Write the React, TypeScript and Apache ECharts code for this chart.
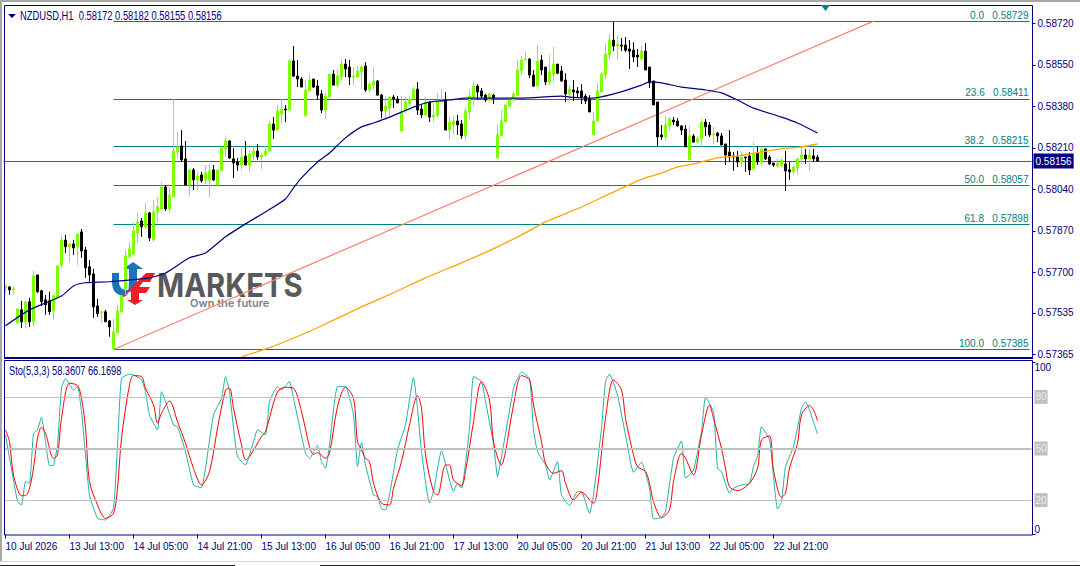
import { useEffect, useRef } from 'react';
import * as echarts from 'echarts';

// prices are in points (1e-5), bars are H1
const timeLabels = ['10 Jul 2026', '13 Jul 13:00', '14 Jul 05:00', '14 Jul 21:00', '15 Jul 13:00', '16 Jul 05:00', '16 Jul 21:00', '17 Jul 13:00', '20 Jul 05:00', '20 Jul 21:00', '21 Jul 13:00', '22 Jul 05:00', '22 Jul 21:00'];
const barsPerLabel = 16;
const slotCount = 257;

const priceTicks = [58720, 58550, 58380, 58210, 58040, 57870, 57700, 57535, 57365];
const fibNames = ['0.0', '23.6', '38.2', '50.0', '61.8', '100.0'];
const fibPrices = [58729, 58411, 58215, 58057, 57898, 57385];
const lastPrice = 58156;
const stoLevels = [80, 50, 20];

// open, close, low, high
const candles = [
  [57637,57645,57617,57649],[57641,57629,57609,57645],[57629,57633,57609,57645],[57494,57551,57490,57551],
  [57547,57498,57473,57584],[57498,57580,57473,57584],[57580,57498,57477,57596],[57498,57686,57477,57707],
  [57690,57621,57617,57690],[57625,57580,57563,57629],[57588,57568,57527,57608],[57584,57539,57527,57621],
  [57543,57604,57506,57608],[57600,57727,57600,57727],[57731,57833,57719,57854],[57833,57805,57780,57854],
  [57805,57817,57739,57817],[57817,57801,57772,57833],[57805,57858,57731,57858],[57866,57788,57760,57878],
  [57792,57719,57678,57805],[57723,57690,57662,57751],[57694,57559,57514,57715],[57563,57531,57518,57592],
  [57535,57539,57494,57543],[57539,57498,57498,57547],[57502,57477,57437,57506],[57387,57457,57385,57510],
  [57453,57543,57453,57568],[57539,57604,57535,57608],[57633,57768,57608,57792],[57764,57797,57760,57823],
  [57776,57870,57772,57903],[57862,57907,57821,57948],[57911,57887,57846,57923],[57887,57944,57878,57985],
  [57944,57842,57829,57948],[57833,57948,57825,57997],[57948,57968,57907,58009],[57960,58050,57956,58071],
  [58050,57960,57952,58058],[57960,58017,57944,58050],[58009,58197,58009,58410],[58193,58214,58169,58275],
  [58218,58161,58152,58283],[58165,58058,58058,58238],[58058,58120,58013,58124],[58120,58079,58038,58128],
  [58079,58095,58038,58112],[58099,58075,58067,58112],[58079,58107,58062,58140],[58079,58116,58009,58144],
  [58120,58079,58075,58140],[58058,58120,58058,58120],[58116,58214,58116,58222],[58206,58238,58173,58255],
  [58238,58169,58165,58242],[58165,58148,58087,58210],[58152,58140,58116,58169],[58140,58173,58120,58210],
  [58177,58140,58140,58238],[58140,58185,58112,58201],[58181,58197,58161,58222],[58197,58173,58161,58226],
  [58173,58181,58124,58189],[58181,58197,58173,58218],[58197,58308,58197,58320],[58308,58283,58247,58336],
  [58283,58361,58283,58386],[58349,58369,58312,58410],[58369,58365,58316,58386],[58365,58566,58365,58574],
  [58566,58504,58500,58627],[58504,58492,58459,58570],[58492,58459,58459,58500],[58341,58447,58341,58488],
  [58443,58488,58443,58512],[58492,58459,58455,58492],[58463,58426,58406,58488],[58431,58365,58353,58447],
  [58365,58422,58328,58435],[58418,58512,58414,58512],[58512,58467,58467,58529],[58467,58504,58459,58533],
  [58500,58553,58488,58574],[58553,58533,58500,58574],[58541,58500,58467,58570],[58500,58504,58467,58541],
  [58500,58525,58496,58545],[58521,58541,58451,58549],[58545,58447,58439,58561],[58447,58471,58439,58480],
  [58467,58484,58447,58541],[58484,58426,58426,58488],[58426,58361,58332,58431],[58361,58381,58324,58422],
  [58373,58418,58336,58422],[58418,58410,58373,58426],[58410,58394,58394,58422],[58279,58361,58279,58422],
  [58361,58398,58353,58418],[58390,58410,58381,58422],[58410,58451,58406,58459],[58451,58365,58345,58480],
  [58369,58345,58332,58386],[58345,58398,58341,58418],[58398,58336,58316,58398],[58336,58345,58316,58394],
  [58341,58398,58336,58435],[58398,58406,58398,58451],[58406,58283,58283,58439],[58283,58316,58242,58336],
  [58304,58320,58263,58341],[58320,58304,58263,58345],[58308,58259,58247,58324],[58259,58361,58242,58373],
  [58357,58422,58328,58447],[58418,58463,58381,58480],[58463,58439,58406,58471],[58443,58422,58414,58455],
  [58426,58406,58398,58431],[58406,58431,58398,58435],[58426,58414,58390,58431],[58169,58263,58169,58304],
  [58259,58320,58259,58365],[58316,58386,58316,58386],[58381,58406,58381,58406],[58406,58431,58402,58439],
  [58426,58529,58422,58570],[58525,58570,58508,58586],[58570,58574,58570,58602],[58574,58508,58496,58578],
  [58508,58463,58459,58529],[58463,58566,58463,58631],[58570,58529,58508,58590],[58541,58480,58467,58541],
  [58480,58521,58467,58590],[58512,58553,58480,58623],[58553,58516,58512,58553],[58525,58484,58480,58545],
  [58488,58431,58398,58516],[58431,58451,58402,58467],[58447,58439,58402,58488],[58443,58435,58418,58459],
  [58443,58418,58390,58471],[58422,58402,58390,58431],[58410,58357,58357,58426],[58263,58320,58263,58357],
  [58320,58443,58320,58476],[58439,58512,58435,58521],[58508,58594,58492,58635],[58590,58651,58570,58676],
  [58651,58627,58606,58725],[58627,58635,58570,58668],[58631,58627,58606,58660],[58631,58610,58602,58664],
  [58615,58606,58533,58651],[58610,58582,58561,58643],[58590,58582,58541,58615],[58574,58606,58570,58627],
  [58606,58529,58529,58639],[58541,58476,58455,58541],[58484,58386,58386,58484],[58398,58255,58218,58398],
  [58263,58255,58242,58304],[58255,58304,58238,58341],[58300,58328,58279,58336],[58324,58316,58304,58336],
  [58320,58300,58296,58332],[58300,58283,58263,58304],[58287,58214,58214,58304],[58161,58259,58161,58300],
  [58259,58234,58230,58267],[58234,58247,58230,58259],[58247,58316,58214,58328],[58316,58296,58259,58328],
  [58304,58263,58255,58316],[58263,58267,58226,58296],[58271,58259,58234,58275],[58259,58222,58222,58271],
  [58226,58181,58140,58226],[58193,58173,58152,58283],[58177,58173,58116,58193],[58173,58152,58132,58197],
  [58152,58173,58132,58193],[58173,58169,58112,58173],[58177,58120,58099,58193],[58124,58185,58120,58234],
  [58189,58152,58140,58218],[58152,58206,58140,58206],[58206,58165,58161,58206],[58173,58144,58140,58181],
  [58148,58140,58132,58148],[58136,58148,58128,58165],[58140,58161,58132,58165],[58144,58116,58034,58197],
  [58120,58112,58079,58152],[58112,58132,58099,58140],[58128,58165,58099,58169],[58165,58181,58140,58214],
  [58181,58165,58144,58206],[58165,58181,58116,58206],[58177,58165,58152,58206],[58172,58156,58155,58182],
];

// [bar index, value]
const blueMa = [
  [0,57482],[6,57547],[14,57604],[17,57645],[20,57658],[26,57662],[36,57678],[40,57698],[46,57760],[50,57780],
  [55,57846],[60,57899],[65,57948],[70,58001],[72,58046],[74,58087],[78,58152],[81,58189],[85,58251],[89,58296],
  [92,58312],[96,58336],[102,58377],[106,58398],[111,58406],[115,58414],[124,58414],[129,58414],[139,58422],[141,58418],
  [147,58414],[153,58435],[159,58467],[161,58480],[164,58476],[169,58459],[175,58447],[179,58435],[183,58406],[187,58373],
  [194,58336],[198,58312],[203,58271],
];
const orangeMa = [
  [59,57355],[66,57392],[74,57445],[79,57482],[89,57559],[97,57617],[105,57678],[114,57739],[123,57805],[130,57862],
  [135,57907],[144,57968],[151,58022],[157,58067],[160,58087],[164,58107],[168,58132],[173,58148],[178,58169],[183,58177],
  [189,58193],[194,58206],[199,58214],[203,58226],
];
const fibTrend = [[27,57385],[217,58729]];

const stoMain = [
  [0,58],[3,19.1],[4,17.2],[5,30.8],[6,29.8],[7,58.9],[8,60.8],[9,68.2],[10,54],[11,40],[12,40.4],[13,52],[14,85],[15,90.8],
  [17,84],[18,86],[19,71.5],[20,46],[21,23],[23,9.4],[25,8.5],[27,15.3],[28,52],[29,90.8],[31,93.2],[32,92.8],[34,89.9],
  [35,83],[36,69.5],[38,60.8],[39,83],[40,77.3],[42,63.7],[43,62.7],[45,48.2],[47,28.8],[49,27.3],[50,38.5],[52,69.5],
  [54,79.2],[55,91.8],[56,83],[57,61.8],[58,45.3],[60,40.4],[62,54],[63,60.8],[65,57.9],[66,77.3],[68,86],[69,84],[71,88.9],
  [72,79.2],[75,47.2],[76,44.3],[78,51.7],[79,42.4],[80,38.5],[81,52],[83,86],[85,86],[87,69.5],[88,39.5],[89,53.6],
  [90,40.4],[92,23],[93,22],[94,14.9],[95,14.3],[96,23],[98,49.2],[100,63.7],[102,91.2],[103,73.4],[104,48.2],[106,18.2],
  [107,25],[109,48.6],[112,25.1],[113,29.8],[114,26.9],[116,61.8],[117,91.8],[119,88.9],[120,77.3],[122,53],[123,33.7],
  [124,45],[127,85],[128,90.8],[129,94.4],[131,90.8],[132,60.8],[133,48.2],[135,40.4],[136,31.7],[138,42.4],[139,23],
  [141,16.8],[143,25],[144,25],[146,12.3],[147,23],[149,61.8],[150,88.9],[151,93.2],[153,81.1],[155,57.9],[157,36.2],
  [159,42],[161,26.9],[162,9],[164,9.8],[165,13.3],[167,44.3],[169,54.4],[170,32.7],[172,37.5],[174,59.8],[175,79.8],
  [177,71.5],[178,38.5],[179,36.5],[181,24],[182,26.9],[184,28.8],[186,29.8],[187,39.5],[188,45.3],[189,62.7],[191,55],
  [192,33.6],[193,14.8],[194,19],[195,39.5],[197,51],[199,73.4],[200,77.2],[201,72.4],[203,58.4],
];
const stoSignal = [
  [0,60.8],[1,54],[2,34.6],[4,22.6],[5,22.6],[6,26.9],[7,38.5],[8,56],[9,62.3],[10,58.9],[12,44.3],[13,46.2],[14,67.6],
  [16,87.9],[18,86.6],[19,79.2],[20,61.8],[21,30.8],[23,17.2],[25,9.4],[27,12.3],[28,26.9],[29,56],[31,87],[32,92.4],
  [34,91.8],[35,85],[37,75.3],[38,64.7],[39,70.5],[41,77.6],[43,65.6],[45,53],[47,38.5],[49,28.8],[51,36.6],[53,61.8],
  [55,84],[56,85],[57,73.4],[59,52],[60,43.4],[61,45.3],[64,56.9],[65,59.8],[68,83],[70,85.6],[72,85],[74,71.5],[76,51.1],
  [77,46.6],[78,47.6],[80,44.3],[81,47.2],[83,74.4],[85,85.6],[87,79.2],[88,54],[89,49.2],[90,44.3],[91,42.4],[92,29.8],
  [94,18.2],[96,17.2],[97,26.9],[99,42.4],[101,63.7],[103,80.8],[104,73.4],[105,46.2],[107,24.9],[108,23],[110,40.4],
  [111,40.4],[112,31.7],[114,28.4],[115,36.6],[117,65.6],[119,88.9],[121,78.2],[122,54],[124,40.4],[125,48.2],[127,75.3],
  [129,92.4],[131,89.9],[132,75.3],[134,54],[135,41.4],[137,35.6],[139,37.1],[140,29.8],[142,20.1],[144,24.6],[147,18.2],
  [148,26.9],[150,67.6],[152,89.9],[154,84],[155,67.6],[157,46.3],[158,39.5],[160,36.6],[161,29.8],[162,19.1],[164,9.8],
  [166,14.3],[167,30.8],[169,47.2],[170,44.3],[172,34.6],[174,57.8],[176,75.3],[177,67.6],[179,50],[180,38.5],[181,27.8],
  [183,25.5],[186,29.8],[188,38.5],[189,55],[191,57.3],[192,37.5],[194,21.6],[195,24],[196,38.5],[198,53],[199,69.5],
  [201,74.9],[202,72.4],[203,66.2],
];

const uPath = 'M112 273 L119 273 L119 282 Q119 289 126 290 L129 290 L126 296 Q112 296 112 282 Z M129 269 L123 269 L133 262 L143 269 L137 269 L137 282 Q137 288 133 292 L128 291 Q129 287 129 282 Z';
const fPath = 'M122 297 L146 273 L155 273 L150 282 L143 282 L139 287 L150 287 L146 293 L139 293 L139 300 L143 300 L135 305 L127 300 L131 300 L131 290 L124 297 Z';
echarts.graphic.registerShape('ufU', echarts.graphic.extendPath(uPath, {}));
echarts.graphic.registerShape('ufF', echarts.graphic.extendPath(fPath, {}));

const NAVY = '#000080';
const TEAL = '#008080';
const FONT = '"Liberation Sans", sans-serif';

const categories = Array.from({ length: slotCount }, (_, i) =>
  i % barsPerLabel === 0 && timeLabels[i / barsPerLabel] ? timeLabels[i / barsPerLabel] : String(i)
);
const isLabelled = (i: number) => i % barsPerLabel === 0 && i / barsPerLabel < timeLabels.length;

export default function App() {
  const chartRef = useRef<HTMLDivElement>(null);

  useEffect(() => {
    if (!chartRef.current) return;
    const chart = echarts.init(chartRef.current, undefined, { renderer: 'svg' });

    const fibLines = fibPrices.map((p, i) => [
      {
        coord: [27, p],
        label: {
          show: true,
          position: 'insideEndTop',
          distance: 1,
          color: TEAL,
          fontFamily: FONT,
          fontSize: 10,
          formatter: `${fibNames[i]}   ${(p / 100000).toFixed(5)}`,
        },
      },
      { coord: [slotCount - 1, p] },
    ]);

    chart.setOption({
      animation: false,
      backgroundColor: '#ffffff',
      textStyle: { fontFamily: FONT },
      grid: [
        { left: 3.5, width: 1028, top: 5, height: 352 },
        { left: 3.5, width: 1028, top: 362.5, height: 172 },
      ],
      xAxis: [
        { type: 'category', gridIndex: 0, data: categories, axisLine: { show: false }, axisTick: { show: false }, axisLabel: { show: false } },
        {
          type: 'category',
          gridIndex: 1,
          data: categories,
          axisLine: { show: false },
          axisTick: { show: true, alignWithLabel: true, length: 4, interval: (i: number) => isLabelled(i), lineStyle: { color: NAVY } },
          axisLabel: {
            show: true,
            interval: (i: number) => isLabelled(i),
            align: 'left',
            margin: 7,
            hideOverlap: false,
            color: NAVY,
            fontFamily: FONT,
            fontSize: 10,
          },
        },
      ],
      yAxis: [
        {
          type: 'value',
          gridIndex: 0,
          position: 'right',
          offset: 1,
          min: 57354,
          max: 58795,
          splitLine: { show: false },
          axisLine: { show: false },
          axisTick: { show: true, length: 3, customValues: priceTicks, lineStyle: { color: NAVY } },
          axisLabel: {
            customValues: priceTicks,
            margin: 5,
            color: NAVY,
            fontFamily: FONT,
            fontSize: 10,
            formatter: (v: number) => (v / 100000).toFixed(5),
          },
        },
        {
          type: 'value',
          gridIndex: 1,
          position: 'right',
          offset: 1,
          min: 0,
          max: 100,
          splitLine: { show: false },
          axisLine: { show: false },
          axisTick: { show: true, length: 3, customValues: [0, 100], lineStyle: { color: NAVY } },
          axisLabel: {
            customValues: [0, 20, 50, 80, 100],
            margin: 2,
            color: NAVY,
            fontFamily: FONT,
            fontSize: 10,
            verticalAlignMinLabel: 'bottom',
            verticalAlignMaxLabel: 'top',
            formatter: (v: number) => (stoLevels.includes(v) ? `{lv|${v}}` : String(v)),
            rich: { lv: { backgroundColor: '#c0c0c0', color: '#ececec', fontFamily: FONT, fontSize: 10, padding: [2, 1, 2, 1] } },
          },
        },
      ],
      series: [
        {
          type: 'candlestick',
          xAxisIndex: 0,
          yAxisIndex: 0,
          barWidth: 3,
          z: 3,
          itemStyle: { color: '#7FFF00', color0: '#000000', borderColor: '#7FFF00', borderColor0: '#000000', borderWidth: 1 },
          data: candles,
          markLine: {
            silent: true,
            symbol: 'none',
            z: 2,
            lineStyle: { color: TEAL, width: 1, type: 'solid' },
            data: [
              ...fibLines,
              {
                yAxis: lastPrice,
                label: {
                  show: true,
                  position: 'end',
                  distance: 2,
                  formatter: (lastPrice / 100000).toFixed(5),
                  color: '#ffffff',
                  backgroundColor: NAVY,
                  padding: [3, 2, 2, 2],
                  fontFamily: FONT,
                  fontSize: 10,
                },
              },
            ],
          },
        },
        { type: 'line', xAxisIndex: 0, yAxisIndex: 0, data: blueMa, showSymbol: false, smooth: 0.2, z: 4, lineStyle: { color: NAVY, width: 1.2 } },
        { type: 'line', xAxisIndex: 0, yAxisIndex: 0, data: orangeMa, showSymbol: false, smooth: 0.2, z: 4, lineStyle: { color: '#FFA500', width: 1.3 } },
        { type: 'line', xAxisIndex: 0, yAxisIndex: 0, data: fibTrend, showSymbol: false, z: 2, lineStyle: { color: '#FA8072', width: 1.2 } },
        {
          type: 'line',
          xAxisIndex: 1,
          yAxisIndex: 1,
          data: stoMain,
          showSymbol: false,
          smooth: 0.15,
          z: 3,
          lineStyle: { color: '#20B2AA', width: 1 },
          markLine: {
            silent: true,
            symbol: 'none',
            label: { show: false },
            data: stoLevels.map((v) => ({ yAxis: v, lineStyle: { color: '#c0c0c0', type: 'solid', width: v === 50 ? 2 : 1 } })),
          },
        },
        { type: 'line', xAxisIndex: 1, yAxisIndex: 1, data: stoSignal, showSymbol: false, smooth: 0.3, z: 4, lineStyle: { color: '#FF0000', width: 1 } },
      ],
      graphic: [
        // window frame
        { type: 'rect', z: 1, shape: { x: 0, y: 0, width: 1080, height: 2 }, style: { fill: '#a8a8a8' } },
        { type: 'rect', z: 1, shape: { x: 0, y: 0, width: 2, height: 562 }, style: { fill: '#a8a8a8' } },
        { type: 'rect', z: 1, shape: { x: 0, y: 561, width: 1078, height: 1 }, style: { fill: '#d8d8d8' } },
        { type: 'rect', z: 1, shape: { x: 0, y: 565, width: 235, height: 1 }, style: { fill: '#222222' } },
        { type: 'rect', z: 1, shape: { x: 320, y: 565, width: 760, height: 1 }, style: { fill: '#222222' } },
        { type: 'rect', z: 10, shape: { x: 4.5, y: 5.5, width: 1028, height: 352 }, style: { fill: 'transparent', stroke: NAVY, lineWidth: 1 } },
        { type: 'rect', z: 10, shape: { x: 4, y: 357, width: 1029, height: 2 }, style: { fill: NAVY } },
        { type: 'rect', z: 10, shape: { x: 4.5, y: 360.5, width: 1028, height: 174.5 }, style: { fill: 'transparent', stroke: NAVY, lineWidth: 1 } },
        // logo sits behind the candles
        { type: 'ufU', z: 0, style: { fill: '#1b75bb' } },
        { type: 'ufF', z: 0, style: { fill: '#ee1c25' } },
        { type: 'text', z: 0, x: 157, y: 285, scaleX: 0.885, style: { text: 'MARKETS', fill: '#58595b', font: '700 33px Inter', verticalAlign: 'middle' } },
        { type: 'text', z: 0, x: 190, y: 303, style: { text: 'Own the future', fill: '#808080', font: '600 11px Inter', verticalAlign: 'middle' } },
        // chart captions
        { type: 'polygon', z: 10, shape: { points: [[8, 14], [16, 14], [12, 18]] }, style: { fill: NAVY } },
        { type: 'text', z: 10, x: 20, y: 16, scaleX: 0.78, style: { text: 'NZDUSD,H1  0.58172 0.58182 0.58155 0.58156', fill: NAVY, font: `12px ${FONT}`, verticalAlign: 'middle' } },
        { type: 'text', z: 10, x: 9, y: 371, scaleX: 0.77, style: { text: 'Sto(5,3,3) 58.3607 66.1698', fill: NAVY, font: `12px ${FONT}`, verticalAlign: 'middle' } },
        { type: 'polygon', z: 10, shape: { points: [[821, 5], [830, 5], [825.5, 11]] }, style: { fill: TEAL } },
      ],
    });

    return () => {
      chart.dispose();
    };
  }, []);

  return <div ref={chartRef} style={{ position: 'fixed', left: 0, top: 0, width: 1080, height: 566 }} />;
}
